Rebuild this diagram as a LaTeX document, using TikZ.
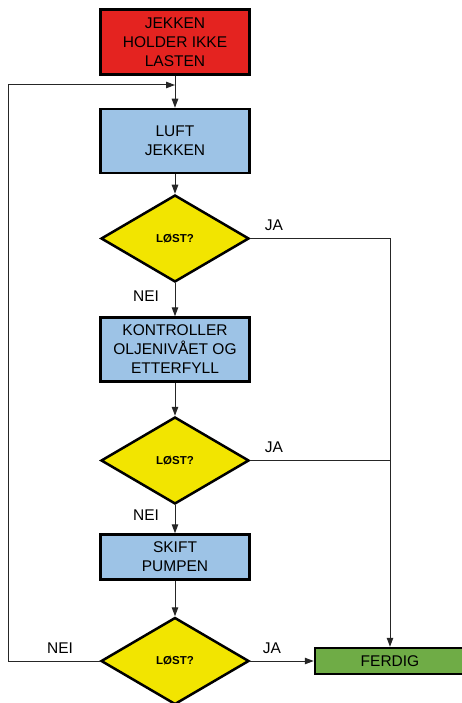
\documentclass[tikz,border=0pt]{standalone}
\usepackage{fontspec}
\setmainfont{Liberation Sans}
\usetikzlibrary{shapes.geometric,arrows.meta}
\definecolor{alarmred}{RGB}{228,35,32}
\definecolor{stepblue}{RGB}{157,195,230}
\definecolor{askyellow}{RGB}{242,229,0}
\definecolor{donegreen}{RGB}{111,172,70}
\tikzset{
  boxtext/.style={font=\fontsize{15.5}{19}\selectfont},
  stepbox/.style={rectangle,draw=black,line width=2.5pt,align=center,inner sep=0pt,
    minimum width=149pt,boxtext},
  askbox/.style={diamond,draw=black,line width=2.5pt,fill=askyellow,inner sep=0pt,
    minimum width=148pt,minimum height=87pt,font=\fontsize{11.5}{13}\selectfont\bfseries},
  answer/.style={boxtext}
}
\begin{document}
\begin{tikzpicture}[x=1pt,y=-1pt]
      \useasboundingbox (0,0) rectangle (461,703);
      \begin{scope}
        \node[stepbox,fill=alarmred,minimum height=65pt] (alarm) at (175,42) {JEKKEN\\HOLDER IKKE\\LASTEN};
        \node[stepbox,fill=stepblue,minimum height=64pt] (luft) at (175,141) {LUFT\\JEKKEN};
        \node[askbox] (d1) at (175,238.5) {LØST?};
        \node[stepbox,fill=stepblue,minimum height=64pt] (olje) at (175,349.5) {KONTROLLER\\OLJENIVÅET OG\\ETTERFYLL};
        \node[askbox] (d2) at (175,460.5) {LØST?};
        \node[stepbox,fill=stepblue,minimum height=45pt] (pumpe) at (175,557) {SKIFT\\PUMPEN};
        \node[askbox] (d3) at (175,661) {LØST?};
        \node[stepbox,fill=donegreen,minimum width=150pt,minimum height=26pt] (ferdig) at (390,661) {FERDIG};
      \end{scope}
      \coordinate (join) at (175,85);
      \coordinate (loopcorner) at (8,85);
      \coordinate (rail) at (389.5,460.5);
      \begin{scope}[every node/.style={answer}]
        \node (ja1) at (274,225) {JA};
        \node (nei1) at (146,296) {NEI};
        \node (ja2) at (274,447) {JA};
        \node (nei2) at (146,515) {NEI};
        \node (ja3) at (272,648) {JA};
        \node (nei3) at (60,648) {NEI};
      \end{scope}
      \begin{scope}[every edge/.style={draw=black!85,line width=1pt,-{Triangle[length=9pt,width=6.5pt]}}]
        \path (alarm) edge (luft);
        \path (luft) edge (d1);
        \path (d1) edge (olje);
        \path (olje) edge (d2);
        \path (d2) edge (pumpe);
        \path (pumpe) edge (d3);
        \path (d3) edge (ferdig);
        \path (d1.east) edge[to path={-| (\tikztotarget)}] (ferdig.north);
        \path (d2.east) edge[-] (rail);
        \path (d3.west) edge[to path={-| (loopcorner) -- (\tikztotarget)}] (join);
      \end{scope}
    \end{tikzpicture}
\end{document}
